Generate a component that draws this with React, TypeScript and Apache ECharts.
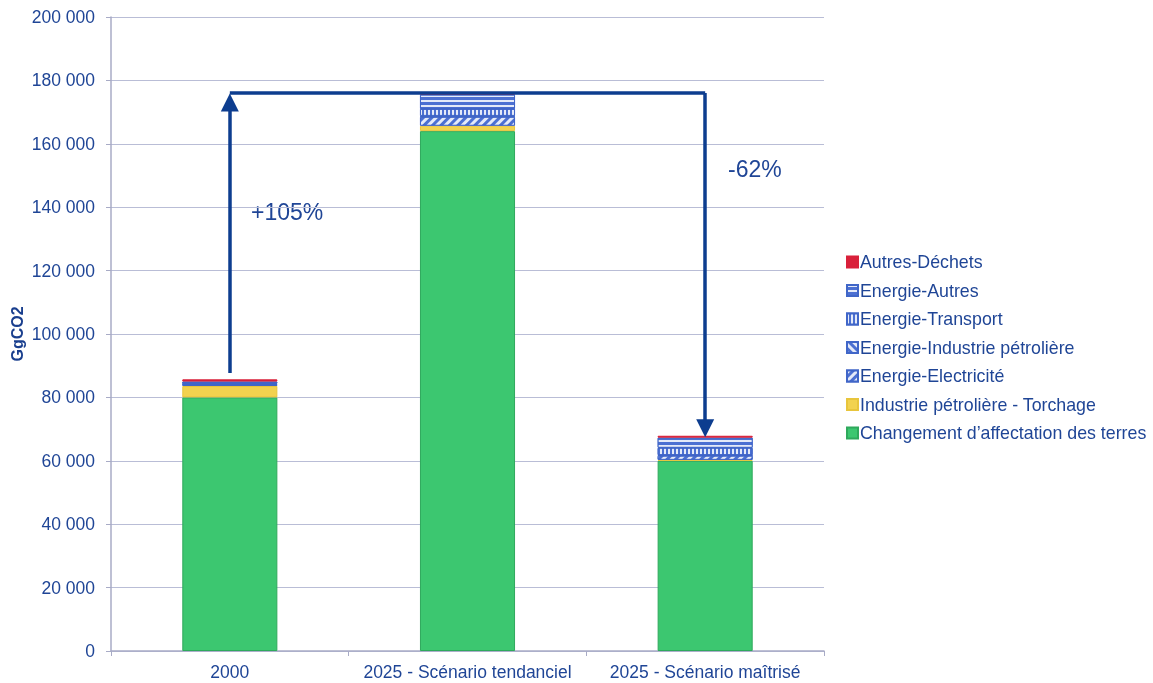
import React, { useEffect, useRef } from "react";
import * as echarts from "echarts";

const categories = ["2000", "2025 - Scénario tendanciel", "2025 - Scénario maîtrisé"];
const changementAffectation = [80000, 164000, 60000];
const torchage = [3600, 1700, 300];
const electricite = [400, 2800, 1300];
const industriePetroliere = [200, 300, 200];
const transport = [200, 2200, 2300];
const energieAutres = [600, 4500, 3200];
const dechets = [700, 500, 600];
const yTicks = [0, 20000, 40000, 60000, 80000, 100000, 120000, 140000, 160000, 180000, 200000];
const arrowUp = [87700, 173000];
const arrowLevel = 176000;
const arrowDownEnd = 70300;
const pctUp = "+105%";
const pctDown = "-62%";

const TEXT = "#1F4596";
const BLUE = "#4C70D2";
const ARROW = "#0D3D8F";
const FONT = "Liberation Sans, Arial, sans-serif";

const fmt = (v: number) => String(v).replace(/\B(?=(\d{3})+(?!\d))/g, " ");

export default function App() {
  const ref = useRef<HTMLDivElement>(null);
  useEffect(() => {
    if (!ref.current) return;
    const chart = echarts.init(ref.current, null, { renderer: "svg" });
    const white = "rgba(255,255,255,0.85)";
    const mk = (name: string, data: number[], color: string, decal?: any, border?: string) => ({
      name,
      type: "bar",
      stack: "total",
      barWidth: "40%",
      data,
      itemStyle: {
        color,
        borderColor: border || color,
        borderWidth: 1,
        decal: decal ? { color: white, symbol: "rect", symbolSize: 1, ...decal } : undefined,
      },
    });
    const series: any[] = [
      mk("Changement d’affectation des terres", changementAffectation, "#3CC770", undefined, "#2FA95C"),
      mk("Industrie pétrolière - Torchage", torchage, "#F2D24F", undefined, "#E8C53C"),
      mk("Energie-Electricité", electricite, BLUE, { dashArrayX: [1, 0], dashArrayY: [3, 3], rotation: -Math.PI / 4 }, "#4066C8"),
      mk("Energie-Industrie pétrolière", industriePetroliere, BLUE, { dashArrayX: [1, 0], dashArrayY: [3, 3], rotation: Math.PI / 4 }, "#4066C8"),
      mk("Energie-Transport", transport, BLUE, { dashArrayX: [2, 2], dashArrayY: [1, 0] }, "#4066C8"),
      mk("Energie-Autres", energieAutres, BLUE, { dashArrayX: [1, 0], dashArrayY: [1.5, 2.5] }, "#4066C8"),
      mk("Autres-Déchets", dechets, "#D9203A", undefined, "#D9203A"),
      {
        type: "lines",
        coordinateSystem: "cartesian2d",
        silent: true,
        symbol: ["none", "triangle"],
        symbolSize: 18,
        lineStyle: { color: ARROW, width: 3.5, opacity: 1, curveness: 0 },
        data: [
          { coords: [[0, arrowUp[0]], [0, arrowUp[1]]] },
          { coords: [[2, arrowLevel], [2, arrowDownEnd]] },
        ],
        z: 10,
      },
      {
        type: "lines",
        coordinateSystem: "cartesian2d",
        silent: true,
        symbol: ["none", "none"],
        lineStyle: { color: ARROW, width: 3.5, opacity: 1, curveness: 0 },
        data: [{ coords: [[0, arrowLevel], [2, arrowLevel]] }],
        z: 10,
      },
    ];
    chart.setOption({
      animation: false,
      textStyle: { fontFamily: FONT },
      grid: { left: 111, right: 329, top: 17, bottom: 32, containLabel: false, outerBoundsMode: "none" },
      legend: {
        orient: "vertical",
        left: 841,
        top: 248,
        itemWidth: 11,
        itemHeight: 11,
        itemGap: 10.5,
        icon: "rect",
        data: [
          "Autres-Déchets",
          "Energie-Autres",
          "Energie-Transport",
          "Energie-Industrie pétrolière",
          "Energie-Electricité",
          "Industrie pétrolière - Torchage",
          "Changement d’affectation des terres",
        ],
        textStyle: { color: TEXT, fontSize: 17.8, fontFamily: FONT, padding: [0, 0, 0, -3] },
      },
      xAxis: {
        type: "category",
        data: categories,
        axisLine: { lineStyle: { color: "#A8ABC6", width: 1.5 } },
        axisTick: { show: true, alignWithLabel: false, length: 5, lineStyle: { color: "#A8ABC6" } },
        axisLabel: { color: TEXT, fontSize: 17.5, margin: 12, fontFamily: FONT, interval: 0 },
      },
      yAxis: {
        type: "value",
        min: 0,
        max: 200000,
        interval: 20000,
        name: "GgCO2",
        nameLocation: "middle",
        nameGap: 86,
        nameMoveOverlap: false,
        nameTextStyle: { color: "#1A3F8E", fontWeight: "bold", fontSize: 16, fontFamily: FONT },
        axisLine: { show: true, lineStyle: { color: "#A8ABC6", width: 1.5 } },
        axisTick: { show: true, length: 5, lineStyle: { color: "#A8ABC6" } },
        splitLine: { lineStyle: { color: "#B9BDD6", width: 1 } },
        axisLabel: {
          color: TEXT,
          fontSize: 17.5,
          margin: 16,
          fontFamily: FONT,
          formatter: (v: number) => (yTicks.includes(v) ? fmt(v) : ""),
        },
      },
      graphic: [
        { type: "text", left: 251, top: 200, style: { text: pctUp, fill: TEXT, fontSize: 23, fontFamily: FONT } },
        { type: "text", left: 728, top: 157, style: { text: pctDown, fill: TEXT, fontSize: 23, fontFamily: FONT } },
      ],
      series,
    });
    return () => chart.dispose();
  }, []);
  return <div ref={ref} style={{ position: "fixed", left: 0, top: 0, width: 1153, height: 683 }} />;
}
